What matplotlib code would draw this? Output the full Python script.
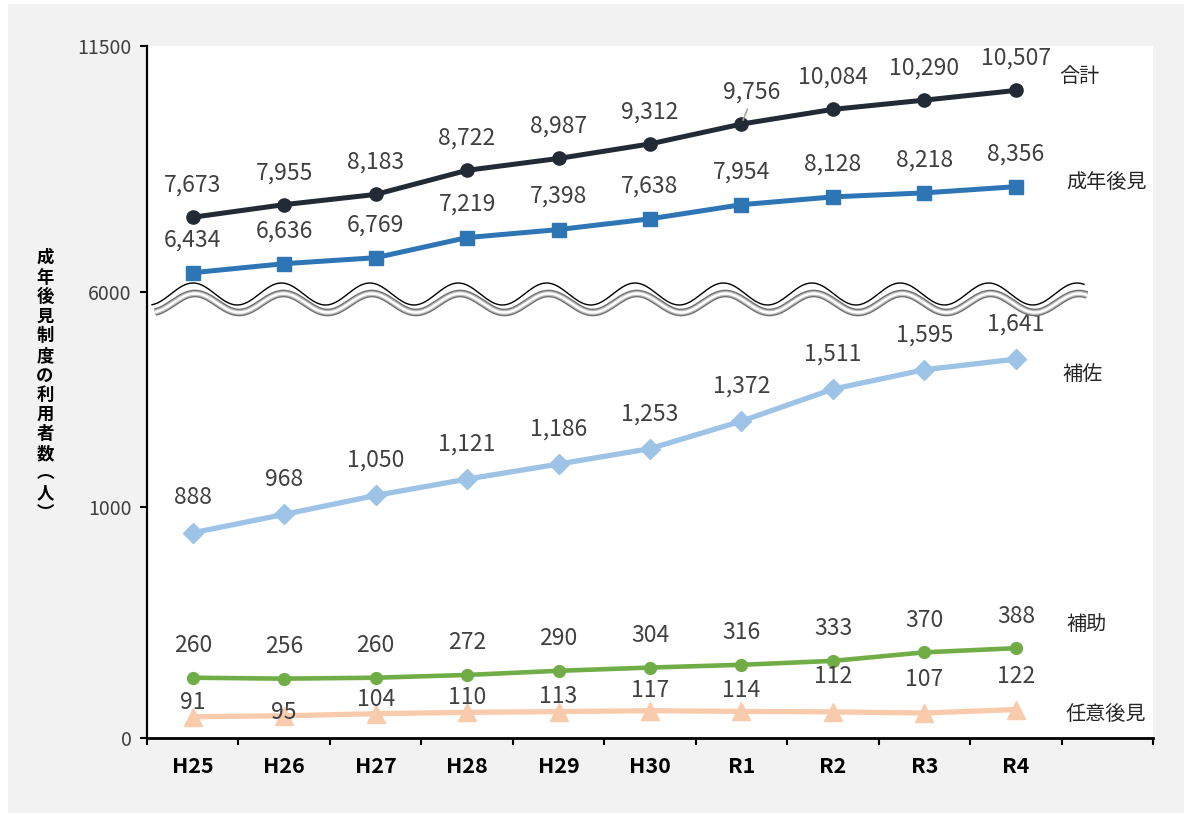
import numpy as np
import matplotlib
matplotlib.use("Agg")
import matplotlib.pyplot as plt
from matplotlib.patches import Rectangle

plt.rcParams['font.family'] = ['Noto Sans CJK JP', 'DejaVu Sans']

# ---- data -------------------------------------------------------------
categories = ['H25', 'H26', 'H27', 'H28', 'H29', 'H30', 'R1', 'R2', 'R3', 'R4']
total = [7673, 7955, 8183, 8722, 8987, 9312, 9756, 10084, 10290, 10507]
guardianship = [6434, 6636, 6769, 7219, 7398, 7638, 7954, 8128, 8218, 8356]
curatorship = [888, 968, 1050, 1121, 1186, 1253, 1372, 1511, 1595, 1641]
assistance = [260, 256, 260, 272, 290, 304, 316, 333, 370, 388]
voluntary = [91, 95, 104, 110, 113, 117, 114, 112, 107, 122]
series_names = ['合計', '成年後見', '補佐', '補助', '任意後見']
y_ticks = [0, 1000, 6000, 11500]
y_title = '成年後見制度の利用者数︵人︶'

W, H = 1184, 814
fig = plt.figure(figsize=(W / 100, H / 100), dpi=100, facecolor='white')

# grey panel behind everything
fig.patches.append(Rectangle((8 / W, 1 - 813 / H), (W - 8) / W, 809 / H,
                             transform=fig.transFigure, facecolor='#f2f2f2',
                             edgecolor='none', zorder=-10))

ax = fig.add_axes([147 / W, 1 - 737.7 / H, (1153 - 147) / W, (737.7 - 46) / H])
ax.set_facecolor('white')

# broken value axis: linear below the break, compressed above it
YK = [0.0, 1700.0, 6000.0, 11500.0]
UK = [0.0, 1700.0, 1931.4, 2998.3]


def fwd(y):
    y = np.asarray(y, dtype=float)
    out = np.interp(y, YK, UK)
    lo = y < YK[0]
    hi = y > YK[-1]
    out = np.where(lo, y, out)
    slope = (UK[-1] - UK[-2]) / (YK[-1] - YK[-2])
    out = np.where(hi, UK[-1] + (y - YK[-1]) * slope, out)
    return out


def inv(u):
    u = np.asarray(u, dtype=float)
    out = np.interp(u, UK, YK)
    lo = u < UK[0]
    hi = u > UK[-1]
    out = np.where(lo, u, out)
    slope = (YK[-1] - YK[-2]) / (UK[-1] - UK[-2])
    out = np.where(hi, YK[-1] + (u - UK[-1]) * slope, out)
    return out


ax.set_yscale('function', functions=(fwd, inv))
ax.set_ylim(0, 11500)
ax.set_xlim(-0.5, 10.5)

x = np.arange(len(categories))
label_color = '#404040'
PX = 72 / 100  # pixels -> points

styles = [
    (total, '#222a35', 'o', 9.5, 3.6, 32),
    (guardianship, '#2e75b6', 's', 9.5, 3.6, 33),
    (curatorship, '#9dc3e6', 'D', 10.5, 3.8, 35),
    (assistance, '#70ad47', 'o', 8.5, 3.3, 32),
    (voluntary, '#f8cbad', '^', 12.5, 3.8, None),
]
voluntary_offsets = [14, 3, 14, 15, 15, 20, 21, 35, 34, 33]

for values, color, marker, ms, lw, off in styles:
    ax.plot(x, values, color=color, marker=marker, markersize=ms, lw=lw,
            markeredgecolor=color, zorder=3, clip_on=False)
    for i, v in enumerate(values):
        dy = off if off is not None else voluntary_offsets[i]
        dx = 0
        if values is total and i == 6:
            dx = 10
        ax.annotate(f'{v:,}', (x[i], v), xytext=(dx * PX, dy * PX),
                    textcoords='offset points', ha='center', va='center',
                    fontsize=16.5, color=label_color, zorder=4)

# leader line for the shifted label
ax.annotate('', (x[6], total[6]), xytext=(6 * PX, 15 * PX), textcoords='offset points',
            arrowprops=dict(arrowstyle='-', color='#a6a6a6', lw=1.2,
                            shrinkA=0, shrinkB=3), zorder=4)

# axes styling
for side in ('top', 'right'):
    ax.spines[side].set_visible(False)
ax.spines['left'].set_linewidth(1.6)
ax.spines['bottom'].set_linewidth(2.0)

ax.set_yticks(y_ticks)
ax.set_yticklabels([str(t) for t in y_ticks])
ax.yaxis.set_minor_locator(matplotlib.ticker.NullLocator())
ax.tick_params(axis='y', length=5, width=1.5, labelsize=14, labelcolor=label_color,
               pad=6)

ax.set_xticks(x)
ax.set_xticklabels(categories, fontweight='bold', fontsize=15.5)
ax.set_xticks(np.arange(-0.5, 11, 1.0), minor=True)
ax.tick_params(axis='x', which='major', length=0, pad=13, labelcolor='black')
ax.tick_params(axis='x', which='minor', length=5, width=1.5)

# series names on the right
name_pos = [(1059, 77), (1066, 183), (1062, 374), (1066, 625), (1066, 714)]
for name, (px, py) in zip(series_names, name_pos):
    fig.text(px / W, 1 - py / H, name, ha='left', va='center', fontsize=14.5,
             color='#262626')

# vertical axis title, one character per line
for i, ch in enumerate(y_title):
    fig.text(45 / W, 1 - (258 + i * 19.6) / H, ch, ha='center', va='center',
             fontsize=12.5, fontweight='bold', color='black')

# wavy break marks drawn in pixel space
ov = fig.add_axes([0, 0, 1, 1], zorder=5)
ov.set_xlim(0, W)
ov.set_ylim(H, 0)
ov.axis('off')
ov.patch.set_alpha(0)
period = 88.4
xs = np.linspace(152, 1084, 800)
ov.plot(xs, 294 - 11 * np.cos(2 * np.pi * (xs - 193) / period), color='black', lw=1.0)
xs2 = np.linspace(155, 1087, 800)
yg = 303 - 9.5 * np.cos(2 * np.pi * (xs2 - 195) / period)
ov.plot(xs2, yg, color='#6f6f6f', lw=5.5, solid_capstyle='butt')
ov.plot(xs2, yg, color='#bdbdbd', lw=3.6, solid_capstyle='butt')
ov.plot(xs2, yg, color='white', lw=1.8, solid_capstyle='butt')

fig.savefig('out.png', dpi=100, facecolor=fig.get_facecolor())
